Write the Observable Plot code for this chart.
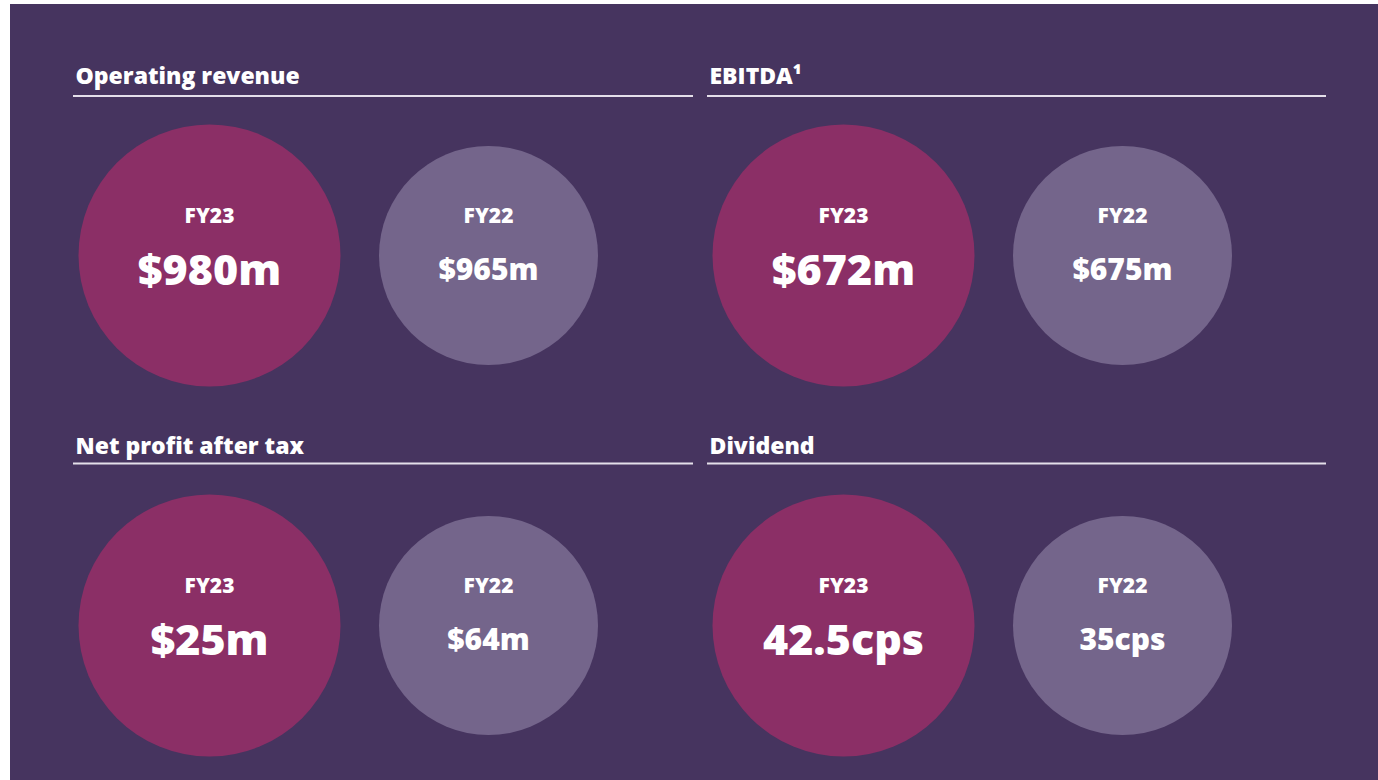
<!DOCTYPE html>
<html><head><meta charset="utf-8">
<script src="https://cdn.jsdelivr.net/npm/d3@7"></script>
<script src="https://cdn.jsdelivr.net/npm/@observablehq/plot@0.6"></script>
<style>
html,body{margin:0;padding:0;background:#fff;width:1378px;height:780px;overflow:hidden;}
#chart{position:absolute;left:10px;top:4px;}
</style></head><body><div id="chart"></div>
<script>
// ---- data ----
const metrics = ["Operating revenue", "EBITDA¹", "Net profit after tax", "Dividend"];
const years = ["FY23", "FY22"];
const fy23Labels = ["$980m", "$672m", "$25m", "42.5cps"];
const fy22Labels = ["$965m", "$675m", "$64m", "35cps"];

// ---- layout (code, not data) ----
const W = 1368, H = 776;
const colX = [63, 697];           // panel left edges
const lineLen = [620, 619];
const headY = [79, 449];          // header baseline
const ruleYs = [91.5, 459];
const circY = [251, 621];
const cxOff = {FY23: 136, FY22: 415};
const rad = {FY23: 131, FY22: 109.5};
const bg = "#46345f", magenta = "#8b2f66", lilac = "#74658b";

const panels = metrics.map((m, i) => ({
  metric: m, col: i % 2, row: Math.floor(i / 2),
  values: {FY23: fy23Labels[i], FY22: fy22Labels[i]}
}));
const headers = panels.map(p => ({text: p.metric, x: colX[p.col] + 2, y: headY[p.row]}));
const rules = panels.map(p => ({x1: colX[p.col], x2: colX[p.col] + lineLen[p.col], y: ruleYs[p.row]}));
const bubbles = panels.flatMap(p => years.map(yr => ({
  year: yr, label: p.values[yr],
  x: colX[p.col] + cxOff[yr], y: circY[p.row], r: rad[yr]
})));

const font = "'Open Sans', Lato, sans-serif";
const chart = Plot.plot({
  width: W, height: H, margin: 0,
  style: {background: bg, fontFamily: font},
  x: {type: "identity", axis: null},
  y: {type: "identity", axis: null},
  r: {type: "identity"},
  color: {domain: years, range: [magenta, lilac]},
  marks: [
    Plot.ruleY(rules, {x1: "x1", x2: "x2", y: "y", stroke: "#e4dfea", strokeWidth: 2}),
    Plot.text(headers, {x: "x", y: "y", text: "text", textAnchor: "start", lineAnchor: "bottom",
      fill: "white", fontSize: 23, fontWeight: 800, fontFamily: font}),
    Plot.dot(bubbles, {x: "x", y: "y", r: "r", fill: "year", stroke: null}),
    Plot.text(bubbles, {x: "x", y: d => d.y - 33, text: "year", lineAnchor: "bottom",
      fill: "white", fontSize: 21, fontWeight: 800, fontFamily: font}),
    Plot.text(bubbles, {x: "x", y: d => d.y + (d.year === "FY23" ? 29 : 24), text: "label", lineAnchor: "bottom",
      fill: "white", fontSize: d => d.year === "FY23" ? 43 : 30, fontWeight: 800, fontFamily: font})
  ]
});
document.getElementById("chart").appendChild(chart);
</script></body></html>
